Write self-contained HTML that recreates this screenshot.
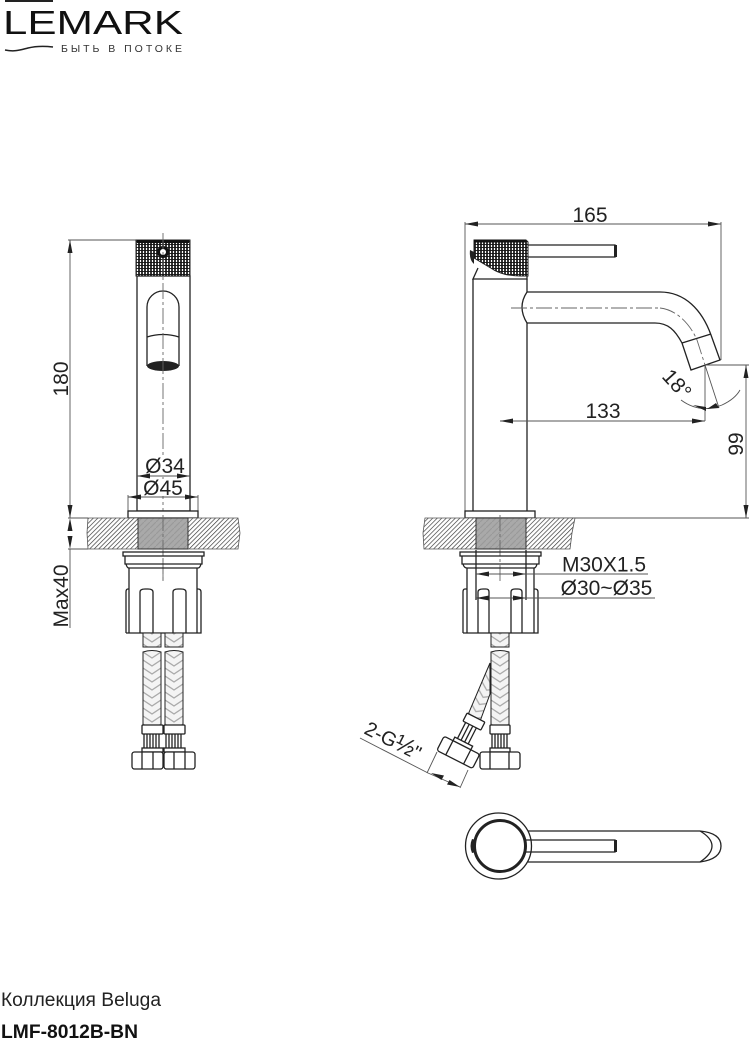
<!DOCTYPE html>
<html><head><meta charset="utf-8"><style>
html,body{margin:0;padding:0;background:#fff;width:749px;height:1040px;overflow:hidden}
svg{display:block}
text{font-family:"Liberation Sans","Noto Sans CJK SC",sans-serif;fill:#222}
.k{fill:none;stroke:#222;stroke-width:1.3}
.w{fill:#fff;stroke:#222;stroke-width:1.3}
.d{fill:none;stroke:#555;stroke-width:.9}
.c{fill:none;stroke:#666;stroke-width:.9;stroke-dasharray:16 3 3 3}
.a{fill:#222;stroke:none}
.t{font-size:21px}
</style></head><body>
<svg width="749" height="1040" viewBox="0 0 749 1040" xmlns="http://www.w3.org/2000/svg">
<defs>
<pattern id="h" width="3.2" height="3.2" patternUnits="userSpaceOnUse" patternTransform="rotate(45)"><rect width="3.2" height="3.2" fill="#fff"/><line x1="0" y1="0" x2="0" y2="3.2" stroke="#333" stroke-width="1.3"/></pattern>
<pattern id="kn" width="3" height="3" patternUnits="userSpaceOnUse"><rect width="3" height="3" fill="#fff"/><line x1="1" y1="0" x2="1" y2="3" stroke="#111" stroke-width="1.7"/><line x1="0" y1="1.5" x2="3" y2="1.5" stroke="#111" stroke-width=".9"/></pattern>
<pattern id="br1" x="143" y="0" width="18" height="8" patternUnits="userSpaceOnUse"><rect width="18" height="8" fill="#f4f4f4"/><path d="M0 -4L9 2L18 -4M0 4L9 10L18 4" fill="none" stroke="#aaa" stroke-width="1.300"/></pattern>
<pattern id="br2" x="165" y="0" width="18" height="8" patternUnits="userSpaceOnUse"><rect width="18" height="8" fill="#f4f4f4"/><path d="M0 -4L9 2L18 -4M0 4L9 10L18 4" fill="none" stroke="#aaa" stroke-width="1.300"/></pattern>
<pattern id="br3" x="491" y="0" width="18" height="8" patternUnits="userSpaceOnUse"><rect width="18" height="8" fill="#f4f4f4"/><path d="M0 -4L9 2L18 -4M0 4L9 10L18 4" fill="none" stroke="#aaa" stroke-width="1.300"/></pattern>
<pattern id="br4" width="18" height="8" patternUnits="userSpaceOnUse" patternTransform="rotate(27)"><rect width="18" height="8" fill="#f4f4f4"/><path d="M0 -4L9 2L18 -4M0 4L9 10L18 4" fill="none" stroke="#aaa" stroke-width="1.300"/></pattern>
<pattern id="g" width="6" height="6" patternUnits="userSpaceOnUse"><rect width="6" height="6" fill="#a9a9a9"/><path d="M0 6L6 0" stroke="#999" stroke-width="1"/></pattern>
</defs>

<!-- Logo -->
<rect x="5" y="0" width="48" height="2" fill="#222"/>
<text x="3" y="34" font-size="33" textLength="180" lengthAdjust="spacingAndGlyphs" style="fill:#111">LEMARK</text>
<path d="M5 50C15 52 20 50 28 48S45 46 53 47" fill="none" stroke="#222" stroke-width="1.5"/>
<text x="61" y="52" font-size="10.500" textLength="121" style="fill:#333">БЫТЬ В ПОТОКЕ</text>

<!-- LEFT VIEW -->
<line class="d" x1="68" y1="240" x2="136" y2="240"/>
<line class="d" x1="70" y1="240" x2="70" y2="518"/>
<path class="a" d="M70 240l-2.500 13h5zM70 518l-2.500-13h5zM70 518l-2.500 13h5zM70 549l-2.500-13h5z"/>
<line class="d" x1="68" y1="518" x2="88" y2="518"/>
<line class="d" x1="68" y1="549" x2="88" y2="549"/>
<line class="d" x1="70" y1="549" x2="70" y2="628"/>
<text class="t" transform="translate(68,379) rotate(-90)" text-anchor="middle">180</text>
<text class="t" transform="translate(68,596) rotate(-90)" text-anchor="middle">Max40</text>

<!-- body -->
<rect class="k" x="137" y="276" width="53" height="235"/>
<rect x="136" y="240" width="54" height="36" fill="url(#kn)" stroke="#222" stroke-width="1"/>
<rect x="137" y="240" width="52" height="3" fill="#111"/>
<circle cx="163" cy="252" r="4.500" fill="#fff" stroke="#111" stroke-width="3"/>
<path class="k" d="M147 366V307a16 16 0 0 1 32 0V366"/>
<path class="k" d="M147 337Q163 332 179 337"/>
<ellipse cx="163" cy="366" rx="16" ry="5" fill="#222"/>
<line class="c" x1="163" y1="233" x2="163" y2="582"/>
<!-- dims 34/45 -->
<rect x="146" y="457" width="38" height="17" fill="#fff"/>
<rect x="143" y="479" width="40" height="17" fill="#fff"/>
<text class="t" x="165" y="473" text-anchor="middle">Ø34</text>
<text class="t" x="163" y="495" text-anchor="middle">Ø45</text>
<line class="d" x1="137" y1="476" x2="190" y2="476"/>
<path class="a" d="M137 476l13-2.500v5zM190 476l-13-2.500v5z"/>
<line class="d" x1="128" y1="497" x2="198" y2="497"/>
<line class="d" x1="128" y1="495" x2="128" y2="511"/>
<line class="d" x1="198" y1="495" x2="198" y2="511"/>
<path class="a" d="M128 497l13-2.500v5zM198 497l-13-2.500v5z"/>
<rect class="w" x="128" y="511" width="70" height="7"/>
<!-- counter -->
<path d="M88 518H238L240 533L238 549H88L87 533Z" fill="url(#h)" stroke="#555" stroke-width=".8"/>
<rect x="138" y="518" width="50" height="31" fill="url(#g)" stroke="#333" stroke-width="1"/>
<line class="c" x1="163" y1="515" x2="163" y2="582"/>
<!-- under -->
<rect class="k" x="123" y="552" width="81" height="4"/>
<path class="k" d="M125 556V564H202V556"/>
<path class="k" d="M126 564Q127 568 129 568L198 568Q200 568 201 564"/>
<path class="k" d="M129 568V633M197 568V633"/>
<path class="k" d="M126 633V592Q126 589 128 589H129M197 589H198Q201 589 201 592V633H126"/>
<path class="k" d="M140 633V592Q140 589 145 589H148Q153 589 153 592V633M173 633V592Q173 589 178 589H181Q186 589 186 592V633"/>
<!-- hoses -->
<rect x="143" y="633" width="18" height="14" fill="url(#br1)" stroke="#222" stroke-width="1"/>
<rect x="165" y="633" width="18" height="14" fill="url(#br2)" stroke="#222" stroke-width="1"/>
<path d="M143 652Q152 649 161 652V725H143Z" fill="url(#br1)" stroke="#222" stroke-width="1"/>
<path d="M165 652Q174 649 183 652V725H165Z" fill="url(#br2)" stroke="#222" stroke-width="1"/>
<rect class="w" x="142" y="725" width="21" height="9" rx="1"/>
<rect class="w" x="164" y="725" width="21" height="9" rx="1"/>
<path class="k" d="M144 734V748M147 734V748M150 734V748M153 734V748M156 734V748M159 734V748M166 734V748M169 734V748M172 734V748M175 734V748M178 734V748M181 734V748"/>
<rect class="w" x="142" y="748" width="21" height="4"/>
<rect class="w" x="164" y="748" width="21" height="4"/>
<rect class="w" x="132" y="752" width="31" height="17" rx="2.500"/>
<rect class="w" x="164" y="752" width="31" height="17" rx="2.500"/>
<path class="k" d="M142 752V769M153 752V769M174 752V769M185 752V769"/>

<!-- RIGHT VIEW -->
<!-- dim 165 -->
<line class="d" x1="465" y1="222" x2="465" y2="518"/>
<line class="d" x1="465" y1="224" x2="721" y2="224"/>
<line class="d" x1="721" y1="222" x2="721" y2="360"/>
<path class="a" d="M465 224l13-2.500v5zM721 224l-13-2.500v5z"/>
<text class="t" x="590" y="222" text-anchor="middle">165</text>
<!-- lever -->
<path class="k" d="M527 245H615V257H527"/>
<rect x="614" y="245" width="3" height="12" fill="#222"/>
<path d="M470 250Q469 260 474 264V252Z" fill="#222"/>
<path d="M474 240H526L528 242V276H520Q505 276 494 270L474 258Z" fill="url(#kn)" stroke="#222" stroke-width="1"/>
<rect x="474" y="239.500" width="52" height="3" fill="#111"/>
<path class="k" d="M478 268L473 279H527V276"/>
<!-- body -->
<path class="k" d="M473 279V511M527 279V292Q517 307 527 323V511"/>
<!-- spout -->
<path class="k" d="M527 292H660C685 292 702 310 711 335L720 360L691 370L682 343C675 330 668 323 655 323H527"/>
<line class="k" x1="682" y1="343" x2="711" y2="334"/>
<line class="c" x1="511" y1="308" x2="660" y2="308"/>
<path class="c" d="M660 308C678 310 691 326 697 340L705 365"/>
<line class="d" x1="705" y1="365" x2="719" y2="408"/>
<!-- 18 deg -->
<text font-size="21" transform="translate(661,377) rotate(48)" style="fill:#222">18°</text>
<line class="d" x1="705" y1="366" x2="705" y2="421"/>
<path class="d" d="M681 400Q700 414 722 405Q735 399 740 390"/>
<path class="a" d="M693 405l13 2v4zM719 408l-12 1 9-6z"/>
<!-- dim 133 -->
<line class="d" x1="500" y1="421" x2="705" y2="421"/>
<path class="a" d="M500 421l13-2.500v5zM705 421l-13-2.500v5z"/>
<text class="t" x="603" y="418" text-anchor="middle">133</text>
<!-- dim 99 -->
<line class="d" x1="706" y1="365" x2="749" y2="365"/>
<line class="d" x1="746" y1="365" x2="746" y2="518"/>
<path class="a" d="M746 365l-2.500 13h5zM746 518l-2.500-13h5z"/>
<text class="t" transform="translate(743,444) rotate(-90)" text-anchor="middle">99</text>
<line class="d" x1="535" y1="518" x2="749" y2="518"/>
<!-- base -->
<rect class="w" x="465" y="511" width="70" height="7"/>
<path d="M425 518H575L572 533L570 549H424L423 533Z" fill="url(#h)" stroke="#555" stroke-width=".8"/>
<rect x="476" y="518" width="50" height="31" fill="url(#g)" stroke="#333" stroke-width="1"/>
<line class="c" x1="500" y1="515" x2="500" y2="582"/>
<!-- under -->
<rect class="k" x="460" y="552" width="81" height="4"/>
<path class="k" d="M462 556V564H539V556"/>
<path class="k" d="M463 564Q464 568 467 568L534 568Q536 568 537 564"/>
<path class="k" d="M467 568V633M534 568V633"/>
<path class="k" d="M463 633V592Q463 589 465 589H467M534 589H535Q538 589 538 592V633H463"/>
<path class="k" d="M478 633V592Q478 589 483 589H486Q489 589 489 592V633M511 633V592Q511 589 515 589H518Q522 589 522 592V633"/>
<path class="k" d="M476 550V600M526 550V600" stroke-width="1.500"/>
<!-- M30 dims -->
<text class="t" x="604" y="571.500" text-anchor="middle">M30X1.5</text>
<text class="t" x="606.500" y="595" text-anchor="middle">Ø30~Ø35</text>
<line class="d" x1="476" y1="574" x2="648" y2="574"/>
<line class="d" x1="476" y1="598" x2="655" y2="598"/>
<path class="a" d="M476 574l13-2.500v5zM526 574l-13-2.500v5zM476 598l13-2.500v5zM526 598l-13-2.500v5z"/>
<!-- hoses -->
<rect x="491" y="633" width="18" height="14" fill="url(#br3)" stroke="#222" stroke-width="1"/>
<path d="M490 663L467 717L479 724L490 694Z" fill="url(#br4)" stroke="#222" stroke-width="1"/>
<path d="M491 652Q500 649 509 652V725H491Z" fill="url(#br3)" stroke="#222" stroke-width="1"/>
<rect class="w" x="490" y="725" width="20" height="9" rx="1"/>
<path class="k" d="M492 734V748M495 734V748M498 734V748M501 734V748M504 734V748M507 734V748"/>
<rect class="w" x="490" y="748" width="20" height="4"/>
<rect class="w" x="480" y="752" width="40" height="17" rx="2.500"/>
<path class="k" d="M490 752V769M509 752V769"/>
<g transform="translate(461,747) rotate(27)">
<rect class="w" x="-10" y="-33" width="20" height="9" rx="1"/>
<path class="k" d="M-7 -24V-2M-3 -24V-2M1 -24V-2M5 -24V-2"/>
<rect class="w" x="-10" y="-6" width="20" height="4"/>
<rect class="w" x="-20" y="-2" width="40" height="16" rx="2.500"/>
<path class="k" d="M-10 -2V14M10 -2V14"/>
</g>
<!-- 2-G 1/2 -->
<text font-size="20" transform="translate(363,733) rotate(27)" style="fill:#222">2-G<tspan font-size="24">½</tspan>"</text>
<line class="d" x1="360" y1="738" x2="428" y2="773"/>
<line class="d" x1="437" y1="752" x2="427" y2="773"/>
<line class="d" x1="468" y1="770" x2="460" y2="788"/>
<line class="d" x1="428" y1="773" x2="460" y2="787"/>
<path class="a" d="M431 773l13 2.500-2.500 4.500zM460 787l-13-2.500 2.500-4.500z"/>

<!-- PLAN VIEW -->
<path class="k" d="M528 831H700Q721 833 721 846T700 862H528"/>
<path class="k" d="M700 831Q712 838 712 846T700 862"/>
<circle class="w" cx="498.500" cy="846" r="33"/>
<circle cx="500" cy="846" r="25.500" fill="#fff" stroke="#222" stroke-width="3"/>
<path class="k" d="M526 840H615V852H526"/>
<rect x="614" y="840" width="3" height="12" fill="#222"/>
<path d="M472 839Q469 846 472 853L476 852V840Z" fill="#222"/>

<!-- Footer -->
<text x="1" y="1006" font-size="19" textLength="160" lengthAdjust="spacingAndGlyphs" style="fill:#222">Коллекция Beluga</text>
<text x="1" y="1038" font-size="19" font-weight="bold" textLength="137" lengthAdjust="spacingAndGlyphs" style="fill:#111">LMF-8012B-BN</text>
</svg>
</body></html>
